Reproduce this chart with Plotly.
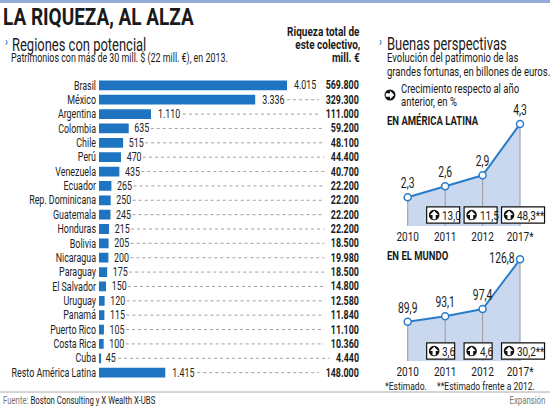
import plotly.graph_objects as go

W, H = 550, 407

# --- data -------------------------------------------------------------
countries = ["Brasil", "México", "Argentina", "Colombia", "Chile", "Perú", "Venezuela",
             "Ecuador", "Rep. Dominicana", "Guatemala", "Honduras", "Bolivia", "Nicaragua",
             "Paraguay", "El Salvador", "Uruguay", "Panamá", "Puerto Rico", "Costa Rica",
             "Cuba", "Resto América Latina"]
persons = [4015, 3336, 1110, 635, 515, 470, 435, 265, 250, 245, 215, 205, 200, 175,
           150, 120, 115, 105, 100, 45, 1415]
totals = [569800, 329300, 111000, 59200, 48100, 44400, 40700, 22200, 22200, 22200, 22200,
          18500, 19980, 18500, 14800, 12580, 11840, 11100, 10360, 4440, 148000]

years = ["2010", "2011", "2012", "2017*"]
latam = [2.3, 2.6, 2.9, 4.3]
mundo = [89.9, 93.1, 97.4, 126.8]
growth_latam = ["13,0", "11,5", "48,3**"]
growth_mundo = ["3,6", "4,6", "30,2**"]

FONT = "Roboto, Liberation Sans, sans-serif"
BLUE = "#1f74c2"
DARK = "#1a1a1a"


def px(x):
    return x / W


def py(y):
    return 1 - y / H


def thousands(v):
    return f"{v:,}".replace(",", ".")


def dec(v):
    return f"{v:.1f}".replace(".", ",")


fig = go.Figure()

# --- left: horizontal bars --------------------------------------------
BAR_X0, BAR_X1 = 99, 360          # pixel span of the bar axis
PPU = (287 - 99) / 4015           # pixels per person
ROW_TOP, ROW_BOT = 69.4, 388.6

fig.add_trace(go.Bar(
    y=countries, x=persons, orientation="h",
    marker=dict(color=BLUE, line_width=0),
    text=[thousands(v) for v in persons], textposition="outside", constraintext="none",
    textfont=dict(family=FONT, size=12, color="#222"),
    cliponaxis=False, xaxis="x", yaxis="y", showlegend=False, hoverinfo="skip",
))

# dotted leaders between the bar label and the total
lx, ly = [], []
for c, v, t in zip(countries, persons, totals):
    lab_w = len(thousands(v)) * 5.0
    tot_w = len(thousands(t)) * 5.3
    lx += [v + (lab_w + 7) / PPU, (BAR_X1 - BAR_X0 - tot_w - 4) / PPU, None]
    ly += [c, c, None]
fig.add_trace(go.Scatter(
    x=lx, y=ly, mode="lines", line=dict(color="#a0a0a0", width=1, dash="dot"),
    xaxis="x", yaxis="y", showlegend=False, hoverinfo="skip",
))

annotations = []
for c, t in zip(countries, totals):
    annotations.append(dict(
        text=f"<b>{thousands(t)}</b>", xref="paper", yref="y", x=px(361), y=c,
        xanchor="right", yanchor="middle", align="right", showarrow=False,
        font=dict(family=FONT, size=12, color=DARK)))

# --- right: two line charts -------------------------------------------
CX0, STEP = 407.7, 37.45


def cx(i):
    return CX0 + i * STEP


x_dom = [px(CX0 - 0.5 * STEP), px(CX0 + 3.5 * STEP)]


def line_chart(vals, ax, ay, vmin, positions):
    fig.add_trace(go.Scatter(
        x=years, y=vals, mode="lines", fill="tozeroy", fillcolor="#c9d8ef",
        line=dict(width=0), xaxis=ax, yaxis=ay, showlegend=False, hoverinfo="skip",
        error_y=dict(type="data", symmetric=False, array=[0] * len(vals),
                     arrayminus=[v - vmin for v in vals], color="#9a9a9a",
                     thickness=1, width=0),
    ))
    fig.add_trace(go.Scatter(
        x=years, y=vals, mode="lines+markers+text",
        line=dict(color="#2a7dc9", width=2),
        marker=dict(size=7, color="white", line=dict(color="#2a7dc9", width=1.5)),
        text=[dec(v) for v in vals], textposition=positions,
        textfont=dict(family=FONT, size=14, color=DARK),
        cliponaxis=False, xaxis=ax, yaxis=ay, showlegend=False, hoverinfo="skip",
    ))


# top chart: value v sits at pixel 281.7 - 36.7 v
top_lo = (281.7 - 226) / 36.7
top_hi = (281.7 - 108) / 36.7
line_chart(latam, "x2", "y2", top_lo, ["top center"] * 4)

# bottom chart: value v sits at pixel 321.7 - 1.691 (v - 89.9)
bot_lo = 89.9 + (321.7 - 361) / 1.691
bot_hi = 89.9 + (321.7 - 245) / 1.691
line_chart(mundo, "x3", "y3", bot_lo, ["top center", "top center", "top center", "middle left"])

shapes = []


def icon(x, y, r, direction):
    """black disc with a white arrow, as paper-referenced shapes"""
    shapes.append(dict(type="circle", xref="paper", yref="paper",
                       x0=px(x - r), x1=px(x + r), y0=py(y + r), y1=py(y - r),
                       fillcolor="#111", line_width=0))
    a = r * 0.78
    s = r * 0.3
    if direction == "up":
        pts = [(0, -a), (a, 0), (s, 0), (s, a), (-s, a), (-s, 0), (-a, 0)]
    else:
        pts = [(a, 0), (0, -a), (0, -s), (-a, -s), (-a, s), (0, s), (0, a)]
    path = "M " + " L ".join(f"{px(x + dx):.5f},{py(y + dy):.5f}" for dx, dy in pts) + " Z"
    shapes.append(dict(type="path", xref="paper", yref="paper", path=path,
                       fillcolor="white", line_width=0))


# growth boxes
for labels, y_box in ((growth_latam, 215), (growth_mundo, 351)):
    for i, g in enumerate(labels, start=1):
        left = cx(i) - 18.5
        width = 13 + 5.0 * len(g)
        shapes.append(dict(
            type="rect", xref="paper", yref="paper", x0=px(left), x1=px(left + width),
            y0=py(y_box + 8.2), y1=py(y_box - 8.2), fillcolor="white",
            line=dict(color="#111", width=1.2)))
        icon(left + 7.5, y_box, 5.3, "up")
        annotations.append(dict(
            text=g, xref="paper", yref="paper", x=px(left + 13.5), y=py(y_box),
            xanchor="left", yanchor="middle", align="left", showarrow=False,
            font=dict(family=FONT, size=13.5, color=DARK)))

icon(390, 95, 5.5, "right")


# --- texts --------------------------------------------------------------
def note(text, x, y, size, color=DARK, anchor="left"):
    annotations.append(dict(
        text=text, xref="paper", yref="paper", x=px(x), y=py(y),
        xanchor=anchor, yanchor="middle", align=anchor, showarrow=False,
        font=dict(family=FONT, size=size, color=color)))


note("<b>LA RIQUEZA, AL ALZA</b>", 1, 17, 24)
note("<b>›</b>", 3, 42, 13, BLUE)
note("Regiones con potencial", 10, 44, 18)
note("Patrimonios con más de 30 mill. $ (22 mill. €), en 2013.", 9, 58, 12)
note("<b>Riqueza total de</b>", 362, 32, 12.5, anchor="right")
note("<b>este colectivo,</b>", 362, 45, 12.5, anchor="right")
note("<b>mill. €</b>", 362, 58, 12.5, anchor="right")

note("<b>›</b>", 377, 41, 13, BLUE)
note("Buenas perspectivas", 385, 43, 18)
note("Evolución del patrimonio de las", 385, 57, 13)
note("grandes fortunas, en billones de euros.", 385, 71, 13)
note("Crecimiento respecto al año", 399, 89, 13)
note("anterior, en %", 399, 101, 13)
note("<b>EN AMÉRICA LATINA</b>", 385, 120, 13)
note("<b>EN EL MUNDO</b>", 385, 255, 13)
note("*Estimado.", 383, 386, 11.5)
note("**Estimado frente a 2012.", 435, 386, 11.5)

note("<span style='color:#777'>Fuente:</span> Boston Consulting y X Wealth X-UBS", 1, 400, 10.5)
note("Expansión", 548, 400, 10.5, "#777", anchor="right")

shapes += [
    dict(type="rect", xref="paper", yref="paper", x0=0, x1=1, y0=py(3), y1=py(0),
         fillcolor="#93acd3", line_width=0),
    dict(type="line", xref="paper", yref="paper", x0=0, x1=1, y0=py(392), y1=py(392),
         line=dict(color="#aaaaaa", width=1)),
]

hidden = dict(showgrid=False, zeroline=False, showline=False, showticklabels=False,
              ticks="", automargin=False)
cat_x = dict(showgrid=False, zeroline=False, showline=False, ticks="", type="category",
             range=[-0.5, 3.5], domain=x_dom, ticklabelstandoff=0, tickangle=0,
             automargin=False, tickfont=dict(family=FONT, size=13.5, color=DARK))

fig.update_layout(
    width=W, height=H, margin=dict(l=0, r=0, t=0, b=0, autoexpand=False),
    paper_bgcolor="white", plot_bgcolor="rgba(0,0,0,0)",
    font=dict(family=FONT, color=DARK),
    bargap=0.32,
    xaxis=dict(hidden, domain=[px(BAR_X0), px(BAR_X1)],
               range=[0, (BAR_X1 - BAR_X0) / PPU]),
    yaxis=dict(showgrid=False, zeroline=False, showline=False, ticks="",
               autorange="reversed", domain=[py(ROW_BOT), py(ROW_TOP)], dtick=1,
               tickfont=dict(family=FONT, size=12, color="#222"), ticklabelstandoff=2,
               automargin=False, anchor="x"),
    xaxis2=dict(cat_x, anchor="y2"),
    yaxis2=dict(hidden, range=[top_lo, top_hi], domain=[py(226), py(108)], anchor="x2"),
    xaxis3=dict(cat_x, anchor="y3"),
    yaxis3=dict(hidden, range=[bot_lo, bot_hi], domain=[py(361), py(245)], anchor="x3"),
    annotations=annotations, shapes=shapes,
)

# the original uses a condensed typeface; squeeze the glyphs horizontally
# (squeeze factor chosen by font size)
squeeze = """
document.body.style.margin = '0';
var gd = document.getElementById('{plot_id}');
function factor(fs) {
  if (fs >= 22) return 0.79;
  if (fs >= 16) return 0.72;
  if (fs >= 12.9 && fs <= 13.1) return 0.73;
  if (fs >= 12.4 && fs <= 12.6) return 0.8;
  return 0.74;
}
function squeeze(el) {
  var fs = parseFloat(window.getComputedStyle(el).fontSize) || 12;
  var w = el.getComputedTextLength();
  if (w > 0) {
    el.setAttribute('textLength', (w * factor(fs)).toFixed(2));
    el.setAttribute('lengthAdjust', 'spacingAndGlyphs');
  }
}
gd.querySelectorAll('text').forEach(function (t) {
  var lines = t.querySelectorAll('tspan.line');
  if (lines.length) { lines.forEach(squeeze); } else { squeeze(t); }
});
"""

fig.write_html("out.html", post_script=squeeze, config={"displayModeBar": False})
